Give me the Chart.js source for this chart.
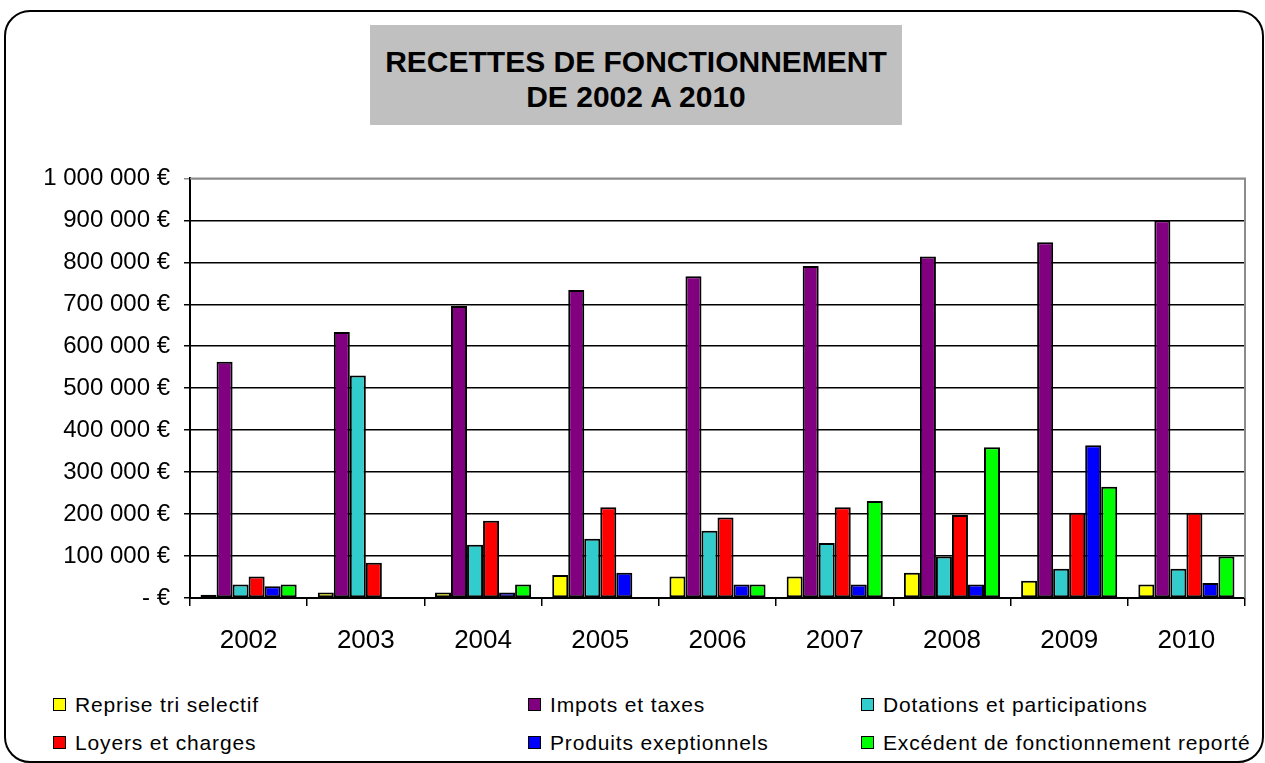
<!DOCTYPE html>
<html>
<head>
<meta charset="utf-8">
<script src="https://cdn.jsdelivr.net/npm/chart.js@4"></script>
<style>
  body { margin: 0; background: #fff; font-family: "Liberation Sans", Arial, sans-serif; }
  #page { position: relative; width: 1265px; height: 763px; overflow: hidden; }
  #frame { position: absolute; left: 4px; top: 10px; width: 1256px; height: 749px;
           border: 2px solid #000; border-radius: 26px; }
  #title { position: absolute; left: 370px; top: 25px; width: 532px; height: 100px;
           background: #c0c0c0; text-align: center; font-weight: bold; font-size: 30px;
           line-height: 35px; padding-top: 19px; box-sizing: border-box; }
  #wrap { position: absolute; left: 0; top: 150px; width: 1265px; height: 520px; }
  .leg { position: absolute; font-size: 21px; letter-spacing: 0.85px; line-height: 24px; white-space: nowrap; }
  .leg i { display: inline-block; width: 11px; height: 11px; border: 1.5px solid #000;
           margin-right: 9px; vertical-align: 1px; }
</style>
</head>
<body>
<div id="page">
  <div id="frame"></div>
  <div id="title">RECETTES DE FONCTIONNEMENT<br>DE 2002 A 2010</div>
  <div id="wrap"><canvas id="chart"></canvas></div>
  <div id="legend"></div>
</div>
<script>
// ===== DATA =====
const years = ["2002", "2003", "2004", "2005", "2006", "2007", "2008", "2009", "2010"];
const reprise   = [8000, 13000, 13000, 55000, 51000, 51000, 60000, 41000, 32000];
const impots    = [563000, 634000, 696000, 734000, 767000, 791000, 814000, 848000, 900000];
const dotations = [32000, 530000, 127000, 141000, 160000, 131000, 99000, 70000, 70000];
const loyers    = [51000, 84000, 184000, 216000, 192000, 216000, 198000, 203000, 203000];
const produits  = [28000, null, 13000, 60000, 32000, 32000, 32000, 364000, 36000];
const excedent  = [32000, null, 32000, null, 32000, 231000, 359000, 265000, 99000];

const seriesNames = ["Reprise tri selectif", "Impots et taxes", "Dotations et participations",
                     "Loyers et charges", "Produits exeptionnels", "Excédent de fonctionnement reporté"];
const seriesColors = ["#ffff00", "#800080", "#33cccc", "#ff0000", "#0000ff", "#00ff00"];
const seriesData = [reprise, impots, dotations, loyers, produits, excedent];

function euro(v) {
  if (v === 0) return "- €";
  return String(v).replace(/\B(?=(\d{3})+(?!\d))/g, " ") + " €";
}

// gray border on top/right of the plot area
const plotBorder = {
  id: "plotBorder",
  beforeDatasetsDraw(chart) {
    const a = chart.chartArea, c = chart.ctx;
    c.save();
    c.strokeStyle = "#8c8c8c";
    c.lineWidth = 2;
    c.beginPath();
    c.moveTo(a.left, a.top);
    c.lineTo(a.right, a.top);
    c.lineTo(a.right, a.bottom);
    c.stroke();
    c.restore();
  }
};

const chart = new Chart(document.getElementById("chart"), {
  type: "bar",
  data: {
    labels: years,
    datasets: seriesData.map((d, i) => ({
      label: seriesNames[i],
      data: d,
      backgroundColor: seriesColors[i],
      borderColor: "#000",
      borderWidth: 2,
      borderSkipped: false,
      categoryPercentage: 0.82,
      barPercentage: 1
    }))
  },
  options: {
    responsive: true,
    maintainAspectRatio: false,
    animation: false,
    layout: { padding: { top: 26, right: 20, left: 0, bottom: 0 } },
    plugins: { legend: { display: false }, tooltip: { enabled: false } },
    scales: {
      x: {
        grid: { offset: true, drawOnChartArea: false, color: "#000", lineWidth: 1.5, tickLength: 8 },
        border: { color: "#000", width: 2 },
        ticks: { color: "#000", font: { family: "Liberation Sans", size: 26 }, padding: 19 },
        afterFit(s) { s.height = 72; }
      },
      y: {
        min: 0, max: 1000000,
        grid: {
          color: c => (c.tick && c.tick.value === 1000000 ? "#8c8c8c" : "#000"),
          lineWidth: 1.5, tickLength: 6
        },
        border: { color: "#000", width: 2 },
        ticks: { stepSize: 100000, color: "#000", font: { family: "Liberation Sans", size: 24 },
                 padding: 14, callback: v => euro(v) },
        afterFit(s) { s.width = 190; }
      }
    }
  },
  plugins: [plotBorder]
});

// ===== LEGEND =====
const legPos = [[53, 693], [528, 693], [861, 693], [53, 731], [528, 731], [861, 731]];
const legend = document.getElementById("legend");
seriesNames.forEach((name, i) => {
  const el = document.createElement("div");
  el.className = "leg";
  el.style.left = legPos[i][0] + "px";
  el.style.top = legPos[i][1] + "px";
  el.innerHTML = `<i style="background:${seriesColors[i]}"></i>${name}`;
  legend.appendChild(el);
});
</script>
</body>
</html>
